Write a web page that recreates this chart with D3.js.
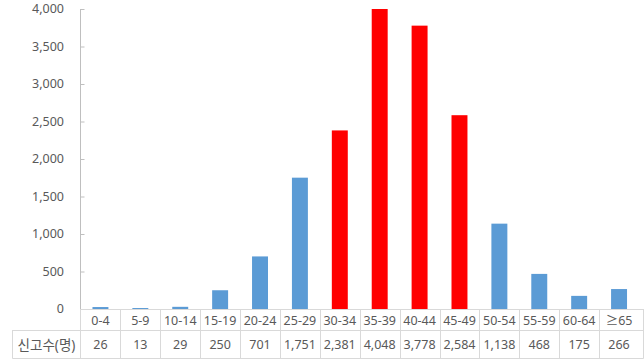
<!DOCTYPE html>
<html>
<head>
<meta charset="utf-8">
<script src="https://cdn.jsdelivr.net/npm/d3@7"></script>
<style>
  body { margin: 0; background: #fff; }
  text { font-family: "Noto Sans", "Noto Sans CJK KR", sans-serif; fill: #595959; }
</style>
</head>
<body>
<svg id="chart" width="644" height="363"></svg>
<script>
// 연령대별 신고수
const ageGroups = ["0-4", "5-9", "10-14", "15-19", "20-24", "25-29", "30-34", "35-39", "40-44", "45-49", "50-54", "55-59", "60-64", "≥65"];
const reports = [26, 13, 29, 250, 701, 1751, 2381, 4048, 3778, 2584, 1138, 468, 175, 266];
const highlighted = ["30-34", "35-39", "40-44", "45-49"];
const yTicks = [0, 500, 1000, 1500, 2000, 2500, 3000, 3500, 4000];
const rowLabel = "신고수(명)";

const svg = d3.select("#chart");
const plotLeft = 80.5, plotRight = 639, plotTop = 9, plotBottom = 309;
const row1 = 330, row2 = 358, tableLeft = 12.5, tableRight = 643.5;

const x = d3.scaleBand().domain(ageGroups).range([plotLeft, plotRight]).paddingInner(0.6).paddingOuter(0.3);
const xCell = d3.scaleBand().domain(ageGroups).range([plotLeft, plotRight]);
const y = d3.scaleLinear().domain([0, 4000]).range([plotBottom, plotTop]).clamp(true);

// y 축
const yAxis = svg.append("g").attr("transform", `translate(${plotLeft},0)`)
    .call(d3.axisRight(y).tickValues(yTicks).tickSize(4).tickFormat(""));
yAxis.select(".domain").remove();
yAxis.selectAll("line").attr("stroke", "#bfbfbf");
svg.append("line").attr("x1", plotLeft).attr("x2", plotLeft).attr("y1", plotTop).attr("y2", plotBottom).attr("stroke", "#bfbfbf");

svg.append("g").selectAll("text").data(yTicks).join("text")
    .attr("x", 64).attr("y", d => y(d)).attr("dy", "0.35em")
    .attr("text-anchor", "end").attr("font-size", 12.5)
    .text(d => d3.format(",")(d));

// 막대
svg.append("g").selectAll("rect").data(reports).join("rect")
    .attr("x", (d, i) => x(ageGroups[i]))
    .attr("width", x.bandwidth())
    .attr("y", d => y(d))
    .attr("height", d => plotBottom - y(d))
    .attr("fill", (d, i) => highlighted.includes(ageGroups[i]) ? "#ff0000" : "#5b9bd5");

// 데이터 표
const grid = svg.append("g").attr("stroke", "#d9d9d9").attr("fill", "none");
grid.append("line").attr("x1", plotLeft).attr("x2", tableRight).attr("y1", plotBottom + 0.5).attr("y2", plotBottom + 0.5);
grid.append("line").attr("x1", tableLeft).attr("x2", tableRight).attr("y1", row1 + 0.5).attr("y2", row1 + 0.5);
grid.append("line").attr("x1", tableLeft).attr("x2", tableRight).attr("y1", row2 + 0.5).attr("y2", row2 + 0.5);
grid.append("line").attr("x1", tableLeft).attr("x2", tableLeft).attr("y1", row1).attr("y2", row2 + 0.5);
grid.append("line").attr("x1", plotLeft).attr("x2", plotLeft).attr("y1", plotBottom).attr("y2", row2 + 0.5);
grid.selectAll(".sep").data(ageGroups.slice(1)).join("line").attr("class", "sep")
    .attr("x1", d => Math.round(xCell(d)) + 0.5).attr("x2", d => Math.round(xCell(d)) + 0.5)
    .attr("y1", plotBottom).attr("y2", row2 + 0.5);
grid.append("line").attr("x1", tableRight).attr("x2", tableRight).attr("y1", plotBottom).attr("y2", row2 + 0.5);

svg.append("g").selectAll("text").data(ageGroups).join("text")
    .attr("x", d => xCell(d) + xCell.bandwidth() / 2).attr("y", (plotBottom + row1) / 2 + 1).attr("dy", "0.35em")
    .attr("text-anchor", "middle").attr("font-size", 12.5).text(d => d);

svg.append("g").selectAll("text").data(reports).join("text")
    .attr("x", (d, i) => xCell(ageGroups[i]) + xCell.bandwidth() / 2).attr("y", (row1 + row2) / 2 + 1).attr("dy", "0.35em")
    .attr("text-anchor", "middle").attr("font-size", 12.5).text(d => d3.format(",")(d));

svg.append("text").attr("x", (tableLeft + plotLeft) / 2).attr("y", (row1 + row2) / 2 + 1).attr("dy", "0.35em")
    .attr("text-anchor", "middle").attr("font-size", 13.5).text(rowLabel);
</script>
</body>
</html>
